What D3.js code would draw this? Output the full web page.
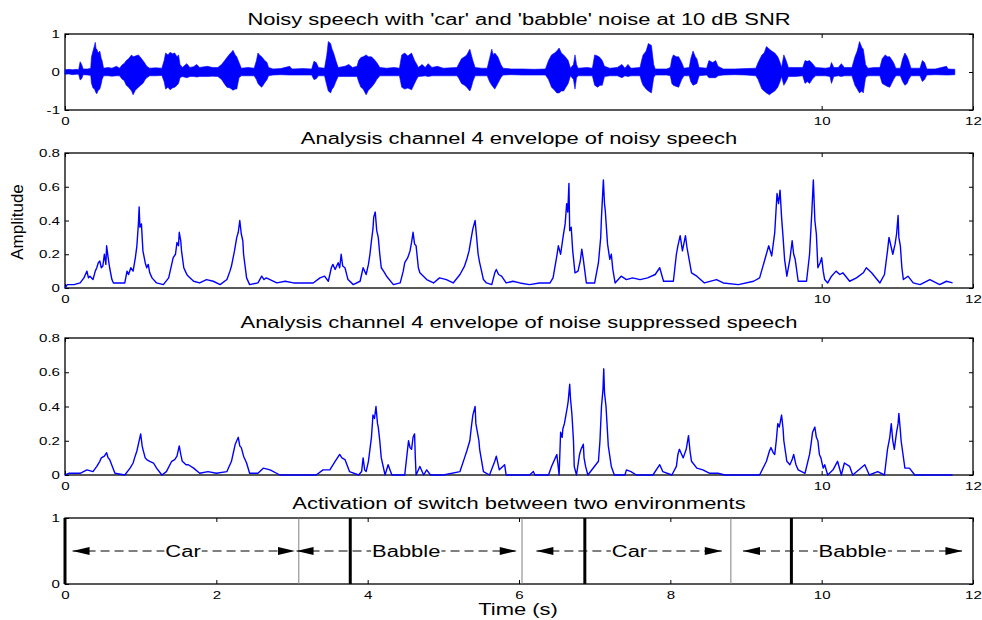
<!DOCTYPE html>
<html>
<head>
<meta charset="utf-8">
<script src="https://cdn.jsdelivr.net/npm/d3@7"></script>
<style>
body { margin: 0; background: #fff; }
svg { display: block; }
text { font-family: "Liberation Sans", Arial, sans-serif; fill: #000; }
</style>
</head>
<body>
<div id="mainDiv"></div>
<script>
var waveform = [
  [0.00,0.06,-0.06],[0.05,0.07,-0.05],[0.10,0.06,-0.07],[0.15,0.07,-0.06],[0.18,0.06,-0.06],
  [0.20,0.27,-0.21],[0.22,0.20,-0.18],[0.24,0.08,-0.07],[0.30,0.08,-0.08],[0.34,0.10,-0.09],
  [0.35,0.40,-0.30],[0.37,0.55,-0.42],[0.39,0.70,-0.45],[0.40,0.78,-0.50],[0.41,0.62,-0.55],
  [0.42,0.60,-0.57],[0.44,0.50,-0.48],[0.46,0.55,-0.45],[0.48,0.35,-0.30],[0.49,0.30,-0.20],
  [0.51,0.10,-0.10],[0.57,0.12,-0.10],[0.62,0.10,-0.11],[0.68,0.15,-0.10],[0.72,0.10,-0.10],
  [0.76,0.20,-0.20],[0.78,0.22,-0.22],[0.81,0.30,-0.35],[0.84,0.35,-0.40],[0.88,0.45,-0.50],
  [0.90,0.40,-0.60],[0.93,0.42,-0.48],[0.97,0.45,-0.40],[1.00,0.38,-0.35],[1.03,0.30,-0.30],
  [1.06,0.22,-0.20],[1.08,0.15,-0.15],[1.12,0.10,-0.10],[1.20,0.11,-0.10],[1.28,0.10,-0.09],
  [1.31,0.30,-0.25],[1.33,0.50,-0.45],[1.36,0.45,-0.40],[1.39,0.52,-0.47],[1.42,0.48,-0.42],
  [1.45,0.50,-0.40],[1.48,0.40,-0.35],[1.50,0.45,-0.30],[1.52,0.20,-0.15],[1.55,0.12,-0.12],
  [1.61,0.22,-0.15],[1.65,0.12,-0.12],[1.70,0.14,-0.12],[1.74,0.20,-0.13],[1.78,0.12,-0.12],
  [1.88,0.15,-0.12],[1.95,0.12,-0.11],[2.02,0.12,-0.12],[2.07,0.20,-0.20],[2.11,0.30,-0.32],
  [2.14,0.38,-0.40],[2.18,0.48,-0.42],[2.20,0.52,-0.45],[2.22,0.57,-0.48],[2.25,0.45,-0.45],
  [2.27,0.40,-0.45],[2.30,0.25,-0.15],[2.33,0.10,-0.10],[2.42,0.12,-0.10],[2.50,0.10,-0.10],
  [2.53,0.30,-0.20],[2.55,0.50,-0.30],[2.57,0.45,-0.35],[2.60,0.40,-0.40],[2.64,0.30,-0.28],
  [2.67,0.25,-0.20],[2.69,0.12,-0.10],[2.75,0.08,-0.08],[2.85,0.09,-0.07],[2.97,0.15,-0.08],
  [3.00,0.08,-0.08],[3.15,0.09,-0.08],[3.26,0.08,-0.08],[3.29,0.28,-0.20],[3.32,0.25,-0.18],
  [3.35,0.12,-0.10],[3.43,0.10,-0.10],[3.46,0.45,-0.35],[3.48,0.80,-0.50],[3.51,0.75,-0.55],
  [3.53,0.60,-0.45],[3.55,0.50,-0.40],[3.58,0.30,-0.25],[3.61,0.12,-0.12],[3.70,0.15,-0.12],
  [3.75,0.20,-0.12],[3.80,0.12,-0.12],[3.86,0.15,-0.12],[3.88,0.30,-0.25],[3.91,0.38,-0.40],
  [3.94,0.40,-0.45],[3.98,0.45,-0.60],[4.01,0.40,-0.48],[4.05,0.40,-0.40],[4.09,0.32,-0.30],
  [4.12,0.25,-0.20],[4.16,0.12,-0.10],[4.25,0.10,-0.10],[4.35,0.12,-0.10],[4.42,0.10,-0.10],
  [4.45,0.45,-0.40],[4.49,0.50,-0.45],[4.53,0.42,-0.42],[4.58,0.50,-0.47],[4.62,0.30,-0.30],
  [4.65,0.20,-0.18],[4.67,0.12,-0.12],[4.72,0.20,-0.11],[4.76,0.12,-0.10],[4.80,0.22,-0.12],
  [4.85,0.12,-0.10],[4.92,0.15,-0.10],[5.00,0.10,-0.10],[5.10,0.11,-0.10],[5.18,0.12,-0.10],
  [5.20,0.20,-0.15],[5.24,0.35,-0.30],[5.28,0.40,-0.35],[5.31,0.45,-0.40],[5.35,0.60,-0.50],
  [5.37,0.45,-0.40],[5.39,0.30,-0.25],[5.42,0.12,-0.10],[5.50,0.10,-0.10],[5.58,0.10,-0.10],
  [5.61,0.35,-0.25],[5.64,0.60,-0.35],[5.66,0.45,-0.40],[5.68,0.50,-0.45],[5.72,0.40,-0.30],
  [5.76,0.20,-0.15],[5.79,0.10,-0.08],[5.90,0.08,-0.07],[6.05,0.08,-0.08],[6.20,0.07,-0.08],
  [6.35,0.08,-0.08],[6.39,0.30,-0.20],[6.43,0.45,-0.40],[6.47,0.50,-0.48],[6.50,0.55,-0.55],
  [6.53,0.63,-0.55],[6.56,0.50,-0.50],[6.59,0.45,-0.50],[6.62,0.38,-0.40],[6.65,0.30,-0.30],
  [6.68,0.10,-0.10],[6.72,0.20,-0.20],[6.74,0.45,-0.45],[6.76,0.20,-0.15],[6.78,0.10,-0.10],
  [6.90,0.12,-0.10],[6.97,0.10,-0.10],[7.00,0.45,-0.35],[7.04,0.42,-0.40],[7.07,0.38,-0.35],
  [7.10,0.30,-0.35],[7.13,0.15,-0.12],[7.20,0.10,-0.10],[7.30,0.12,-0.10],[7.36,0.20,-0.15],
  [7.40,0.10,-0.10],[7.44,0.20,-0.12],[7.48,0.10,-0.10],[7.60,0.12,-0.10],[7.62,0.30,-0.25],
  [7.64,0.45,-0.35],[7.68,0.55,-0.45],[7.71,0.75,-0.50],[7.75,0.70,-0.55],[7.78,0.20,-0.15],
  [7.80,0.08,-0.08],[7.95,0.08,-0.08],[8.00,0.12,-0.10],[8.02,0.35,-0.30],[8.04,0.45,-0.35],
  [8.08,0.40,-0.38],[8.11,0.40,-0.40],[8.15,0.25,-0.20],[8.18,0.10,-0.10],[8.25,0.12,-0.10],
  [8.27,0.35,-0.25],[8.30,0.55,-0.35],[8.33,0.40,-0.32],[8.35,0.35,-0.30],[8.38,0.12,-0.10],
  [8.48,0.10,-0.08],[8.51,0.30,-0.15],[8.56,0.25,-0.15],[8.60,0.30,-0.15],[8.63,0.15,-0.10],
  [8.70,0.08,-0.08],[8.85,0.08,-0.07],[9.00,0.09,-0.08],[9.13,0.10,-0.10],[9.16,0.25,-0.20],
  [9.21,0.45,-0.45],[9.24,0.50,-0.50],[9.27,0.67,-0.55],[9.31,0.60,-0.60],[9.34,0.55,-0.55],
  [9.38,0.50,-0.50],[9.42,0.40,-0.40],[9.45,0.25,-0.25],[9.47,0.12,-0.12],[9.50,0.45,-0.35],
  [9.53,0.30,-0.25],[9.56,0.12,-0.12],[9.65,0.12,-0.12],[9.75,0.12,-0.10],[9.78,0.30,-0.30],
  [9.81,0.28,-0.25],[9.84,0.30,-0.30],[9.88,0.22,-0.18],[9.92,0.12,-0.10],[10.05,0.10,-0.10],
  [10.11,0.12,-0.12],[10.13,0.25,-0.30],[10.16,0.12,-0.12],[10.22,0.12,-0.10],[10.26,0.22,-0.12],
  [10.30,0.12,-0.10],[10.40,0.12,-0.10],[10.44,0.40,-0.35],[10.47,0.55,-0.45],[10.50,0.80,-0.55],
  [10.53,0.65,-0.50],[10.55,0.60,-0.55],[10.58,0.20,-0.15],[10.61,0.10,-0.10],[10.70,0.12,-0.10],
  [10.77,0.12,-0.10],[10.80,0.35,-0.30],[10.84,0.45,-0.35],[10.87,0.40,-0.38],[10.90,0.40,-0.40],
  [10.95,0.25,-0.20],[10.98,0.10,-0.10],[11.04,0.10,-0.10],[11.07,0.35,-0.25],[11.10,0.50,-0.35],
  [11.13,0.40,-0.30],[11.15,0.30,-0.20],[11.18,0.10,-0.10],[11.30,0.10,-0.10],[11.33,0.30,-0.25],
  [11.36,0.25,-0.20],[11.39,0.08,-0.08],[11.50,0.08,-0.07],[11.65,0.15,-0.08],[11.67,0.08,-0.08],
  [11.76,0.07,-0.07]
];

// channel 4 envelope of noisy speech [time, amplitude]
var noisyEnv = [
  [0,0],[0.03,0.02],[0.12,0.02],[0.2,0.03],[0.25,0.06],[0.27,0.08],[0.29,0.1],[0.31,0.06],[0.33,0.07],
  [0.37,0.05],[0.4,0.1],[0.42,0.12],[0.44,0.15],[0.46,0.16],[0.48,0.12],[0.5,0.13],[0.52,0.2],
  [0.54,0.14],[0.55,0.25],[0.57,0.18],[0.59,0.12],[0.62,0.05],[0.64,0.03],[0.79,0.03],[0.82,0.1],
  [0.84,0.08],[0.87,0.12],[0.9,0.1],[0.93,0.18],[0.95,0.25],[0.97,0.38],[0.98,0.48],[0.99,0.36],
  [1.01,0.38],[1.03,0.22],[1.06,0.15],[1.08,0.12],[1.1,0.14],[1.12,0.09],[1.15,0.06],[1.21,0.03],
  [1.3,0.02],[1.37,0.06],[1.41,0.14],[1.43,0.18],[1.46,0.2],[1.48,0.27],[1.5,0.25],[1.51,0.33],
  [1.53,0.28],[1.54,0.22],[1.57,0.12],[1.59,0.1],[1.61,0.08],[1.63,0.07],[1.7,0.04],[1.78,0.03],
  [1.87,0.05],[1.96,0.04],[2.05,0.02],[2.14,0.05],[2.18,0.1],[2.2,0.13],[2.24,0.22],[2.27,0.3],
  [2.29,0.33],[2.31,0.4],[2.33,0.32],[2.35,0.28],[2.36,0.2],[2.4,0.06],[2.44,0.02],[2.55,0.03],
  [2.6,0.07],[2.63,0.05],[2.66,0.06],[2.8,0.03],[2.91,0.04],[3.02,0.03],[3.28,0.03],[3.37,0.06],
  [3.43,0.07],[3.48,0.04],[3.52,0.12],[3.54,0.14],[3.57,0.11],[3.61,0.15],[3.63,0.12],[3.65,0.2],
  [3.67,0.13],[3.7,0.12],[3.74,0.05],[3.81,0.02],[3.9,0.04],[3.94,0.12],[3.98,0.08],[4.01,0.14],
  [4.03,0.2],[4.05,0.28],[4.07,0.35],[4.08,0.42],[4.1,0.45],[4.12,0.34],[4.14,0.3],[4.16,0.2],
  [4.18,0.12],[4.21,0.1],[4.25,0.07],[4.34,0.02],[4.43,0.03],[4.47,0.1],[4.49,0.15],[4.53,0.18],
  [4.56,0.22],[4.58,0.27],[4.6,0.33],[4.62,0.26],[4.64,0.25],[4.67,0.12],[4.69,0.09],[4.78,0.05],
  [4.87,0.03],[4.95,0.06],[5.04,0.05],[5.13,0.03],[5.22,0.08],[5.28,0.13],[5.31,0.17],[5.34,0.22],
  [5.37,0.3],[5.39,0.35],[5.42,0.4],[5.44,0.3],[5.46,0.2],[5.48,0.15],[5.5,0.11],[5.53,0.05],
  [5.57,0.03],[5.64,0.02],[5.68,0.09],[5.7,0.11],[5.73,0.08],[5.77,0.07],[5.83,0.03],[5.92,0.04],
  [6.01,0.03],[6.14,0.02],[6.27,0.03],[6.41,0.03],[6.45,0.06],[6.5,0.19],[6.52,0.25],[6.55,0.2],
  [6.585,0.31],[6.61,0.38],[6.63,0.5],[6.645,0.45],[6.66,0.62],[6.67,0.34],[6.69,0.36],[6.71,0.22],
  [6.74,0.09],[6.78,0.1],[6.81,0.16],[6.83,0.23],[6.85,0.17],[6.87,0.1],[6.89,0.03],[7.0,0.03],
  [7.05,0.15],[7.08,0.3],[7.09,0.42],[7.115,0.64],[7.13,0.5],[7.14,0.46],[7.17,0.26],[7.2,0.17],
  [7.22,0.2],[7.24,0.11],[7.27,0.03],[7.35,0.07],[7.42,0.05],[7.5,0.06],[7.6,0.05],[7.7,0.06],
  [7.8,0.08],[7.86,0.12],[7.91,0.04],[8.04,0.04],[8.08,0.2],[8.1,0.25],[8.13,0.31],[8.16,0.22],
  [8.2,0.31],[8.22,0.24],[8.24,0.19],[8.28,0.09],[8.35,0.07],[8.45,0.03],[8.61,0.05],[8.7,0.03],
  [8.9,0.02],[9.1,0.04],[9.18,0.06],[9.25,0.17],[9.3,0.25],[9.34,0.19],[9.38,0.33],[9.41,0.56],
  [9.43,0.5],[9.45,0.58],[9.47,0.42],[9.49,0.3],[9.51,0.17],[9.54,0.07],[9.58,0.17],[9.61,0.28],
  [9.63,0.2],[9.65,0.17],[9.69,0.04],[9.8,0.04],[9.84,0.2],[9.87,0.45],[9.89,0.64],[9.91,0.4],
  [9.93,0.32],[9.95,0.12],[9.98,0.15],[10.0,0.18],[10.02,0.1],[10.04,0.05],[10.08,0.03],[10.13,0.07],
  [10.19,0.1],[10.24,0.08],[10.28,0.09],[10.37,0.04],[10.46,0.06],[10.55,0.09],[10.59,0.12],[10.66,0.09],
  [10.77,0.03],[10.83,0.08],[10.87,0.22],[10.89,0.3],[10.92,0.24],[10.94,0.2],[10.97,0.26],[10.99,0.32],
  [11.01,0.43],[11.02,0.3],[11.04,0.25],[11.06,0.12],[11.08,0.05],[11.14,0.07],[11.21,0.03],[11.3,0.02],
  [11.43,0.05],[11.56,0.02],[11.65,0.04],[11.73,0.03]
];

// channel 4 envelope after noise suppression [time, amplitude]
var cleanEnv = [
  [0,0],[0.05,0.01],[0.2,0.01],[0.29,0.03],[0.37,0.02],[0.42,0.05],[0.46,0.08],[0.48,0.1],
  [0.52,0.11],[0.55,0.13],[0.57,0.1],[0.59,0.09],[0.66,0.01],[0.79,0],[0.86,0.04],[0.9,0.07],
  [0.92,0.1],[0.95,0.14],[0.97,0.18],[1.0,0.24],[1.02,0.17],[1.03,0.15],[1.06,0.1],[1.08,0.09],
  [1.12,0.08],[1.17,0.07],[1.21,0.04],[1.28,0],[1.34,0.02],[1.41,0.08],[1.45,0.09],[1.48,0.11],
  [1.51,0.17],[1.53,0.12],[1.55,0.08],[1.6,0.06],[1.63,0.06],[1.7,0.04],[1.78,0.01],[1.89,0.02],
  [2.0,0.01],[2.14,0.02],[2.2,0.08],[2.23,0.14],[2.25,0.18],[2.27,0.2],[2.29,0.22],[2.31,0.17],
  [2.33,0.16],[2.36,0.11],[2.4,0.07],[2.44,0.01],[2.55,0.01],[2.62,0.04],[2.71,0.03],[2.84,0],
  [3.32,0],[3.41,0.03],[3.5,0.03],[3.57,0.08],[3.6,0.1],[3.63,0.12],[3.66,0.1],[3.7,0.09],
  [3.76,0.02],[3.88,0],[3.92,0.02],[3.94,0.1],[3.96,0.03],[3.98,0.02],[4.01,0.08],[4.03,0.15],
  [4.05,0.22],[4.07,0.35],[4.09,0.33],[4.11,0.4],[4.13,0.3],[4.14,0.28],[4.16,0.2],[4.18,0.1],
  [4.23,0],[4.27,0.06],[4.32,0],[4.49,0],[4.52,0.12],[4.54,0.2],[4.56,0.16],[4.58,0.15],
  [4.6,0.22],[4.62,0.24],[4.63,0.1],[4.64,0],[4.69,0.05],[4.74,0],[4.78,0.03],[4.83,0],
  [5.0,0],[5.22,0.02],[5.28,0.1],[5.31,0.14],[5.35,0.2],[5.37,0.28],[5.39,0.35],[5.42,0.4],
  [5.43,0.3],[5.45,0.25],[5.47,0.2],[5.48,0.15],[5.53,0.02],[5.61,0],[5.68,0.08],[5.7,0.11],
  [5.74,0.03],[5.81,0.06],[5.83,0],[6.14,0],[6.19,0.02],[6.21,0],[6.39,0],[6.43,0.05],
  [6.48,0.1],[6.5,0.12],[6.53,0],[6.55,0.25],[6.57,0.22],[6.58,0.27],[6.6,0.3],[6.62,0.35],
  [6.64,0.4],[6.65,0.43],[6.67,0.53],[6.68,0.45],[6.7,0.35],[6.72,0.2],[6.73,0.05],[6.76,0],
  [6.8,0.12],[6.82,0.15],[6.85,0.18],[6.86,0.1],[6.88,0.05],[6.91,0],[7.05,0.08],[7.07,0.2],
  [7.09,0.4],[7.11,0.5],[7.12,0.62],[7.13,0.48],[7.15,0.4],[7.18,0.17],[7.22,0.05],[7.26,0],
  [7.4,0],[7.42,0.03],[7.48,0.02],[7.55,0],[7.77,0],[7.86,0.06],[7.9,0.02],[8.02,0],
  [8.08,0.05],[8.1,0.12],[8.12,0.15],[8.15,0.12],[8.17,0.1],[8.21,0.15],[8.24,0.23],[8.26,0.14],
  [8.28,0.08],[8.35,0.04],[8.43,0.03],[8.52,0.01],[8.63,0.01],[8.72,0],[9.18,0],[9.27,0.08],
  [9.31,0.14],[9.33,0.16],[9.36,0.13],[9.38,0.12],[9.4,0.2],[9.42,0.3],[9.44,0.28],[9.47,0.35],
  [9.49,0.27],[9.5,0.2],[9.54,0.08],[9.58,0.06],[9.61,0.09],[9.63,0.12],[9.66,0.06],[9.69,0.03],
  [9.78,0.01],[9.84,0.12],[9.86,0.18],[9.88,0.25],[9.91,0.28],[9.93,0.22],[9.95,0.2],[9.97,0.12],
  [9.99,0.1],[10.02,0.04],[10.04,0.06],[10.08,0],[10.15,0.03],[10.21,0.08],[10.26,0],[10.3,0.07],
  [10.37,0.05],[10.41,0],[10.57,0.06],[10.63,0],[10.74,0.02],[10.83,0],[10.87,0.15],[10.9,0.22],
  [10.92,0.3],[10.94,0.2],[10.96,0.15],[10.99,0.25],[11.01,0.3],[11.02,0.36],[11.04,0.26],[11.05,0.2],
  [11.1,0.04],[11.16,0.04],[11.23,0],[11.73,0]
];

var titles = [
  "Noisy speech with 'car' and 'babble' noise at 10 dB SNR",
  "Analysis channel 4 envelope of noisy speech",
  "Analysis channel 4 envelope of noise suppressed speech",
  "Activation of switch between two environments"
];
var sparseTicks = [0, 10, 12];
var fullTicks = [0, 2, 4, 6, 8, 10, 12];
var waveTicks = [-1, 0, 1];
var ampTicks = [0, 0.2, 0.4, 0.6, 0.8];
var switchTicks = [0, 1];

// switch panel
var thinSwitch = [3.09, 6.04, 8.8];
var thickSwitch = [0, 3.77, 6.87, 9.6];
var envNames = ["Car", "Babble", "Car", "Babble"];
var envFrom = [0.1, 3.06, 6.23, 8.96];
var envTo = [3.04, 5.97, 8.68, 11.86];
var envMid = [1.56, 4.51, 7.46, 10.41];

var stretch = 1.37;
var blue = "#0000ff";

var svg = d3.select("#mainDiv").append("svg")
            .attr("width", 982)
            .attr("height", 620);

svg.append("rect").attr("width", 982).attr("height", 620).attr("fill", "#fff");

var x = d3.scaleLinear().domain([0, 12]).range([65, 973]);

var panels = [
  {top: 34, bottom: 110, domain: [-1, 1], yTicks: waveTicks, xTicks: sparseTicks, titleY: 25},
  {top: 153, bottom: 288, domain: [0, 0.8], yTicks: ampTicks, xTicks: sparseTicks, titleY: 144},
  {top: 338, bottom: 475, domain: [0, 0.8], yTicks: ampTicks, xTicks: sparseTicks, titleY: 328},
  {top: 518, bottom: 584, domain: [0, 1], yTicks: switchTicks, xTicks: fullTicks, titleY: 509}
];

function styleAxis(g) {
  g.attr("font-size", 11).attr("font-family", "Liberation Sans, Arial, sans-serif");
  g.select(".domain").remove();
}

var ys = panels.map(function(p, i) {
  var y = d3.scaleLinear().domain(p.domain).range([p.bottom, p.top]);
  var g = svg.append("g");

  g.append("g").attr("transform", "translate(0," + p.bottom + ")")
   .call(d3.axisBottom(x).tickValues(p.xTicks).tickSize(-4).tickSizeOuter(0).tickPadding(7)
          .tickFormat(function(d) { return String(d); }))
   .call(styleAxis);
  g.append("g").attr("transform", "translate(0," + p.top + ")")
   .call(d3.axisTop(x).tickValues(p.xTicks).tickSize(-4).tickSizeOuter(0).tickFormat(""))
   .call(styleAxis);
  g.append("g").attr("transform", "translate(65,0)")
   .call(d3.axisLeft(y).tickValues(p.yTicks).tickSize(-4).tickSizeOuter(0).tickPadding(5)
          .tickFormat(function(d) { return String(d); }))
   .call(styleAxis);
  g.append("g").attr("transform", "translate(973,0)")
   .call(d3.axisRight(y).tickValues(p.yTicks).tickSize(-4).tickSizeOuter(0).tickFormat(""))
   .call(styleAxis);

  g.append("rect")
   .attr("x", 65).attr("y", p.top)
   .attr("width", 973 - 65).attr("height", p.bottom - p.top)
   .attr("fill", "none").attr("stroke", "#000").attr("stroke-width", 1.3);

  svg.append("text")
     .attr("x", 519).attr("y", p.titleY)
     .attr("text-anchor", "middle").attr("font-size", 16)
     .text(titles[i]);
  return y;
});

// waveform
svg.append("path")
   .datum(waveform)
   .attr("fill", blue).attr("stroke", blue).attr("stroke-width", 0.6)
   .attr("d", d3.area().x(function(d) { return x(d[0]); })
                      .y0(function(d) { return ys[0](d[2]); })
                      .y1(function(d) { return ys[0](d[1]); }));

// envelopes
[noisyEnv, cleanEnv].forEach(function(env, k) {
  var y = ys[k + 1];
  svg.append("path")
     .datum(env)
     .attr("fill", "none").attr("stroke", blue).attr("stroke-width", 1.4)
     .attr("stroke-linejoin", "round")
     .attr("d", d3.line().x(function(d) { return x(d[0]); }).y(function(d) { return y(d[1]); }));
});

// switch panel
var y4 = ys[3];
svg.selectAll(".thin").data(thinSwitch).enter().append("line")
   .attr("x1", function(d) { return x(d); }).attr("x2", function(d) { return x(d); })
   .attr("y1", y4(0)).attr("y2", y4(1))
   .attr("stroke", "#808080").attr("stroke-width", 1);

var ym = y4(0.5);
envNames.forEach(function(name, i) {
  var x0 = x(envFrom[i]), x1 = x(envTo[i]);
  svg.append("line")
     .attr("x1", x0).attr("x2", x1).attr("y1", ym).attr("y2", ym)
     .attr("stroke", "#000").attr("stroke-width", 1).attr("stroke-dasharray", "9,5");
  svg.append("path")
     .attr("d", "M" + x0 + "," + ym + "L" + (x0 + 17) + "," + (ym - 4) + "L" + (x0 + 17) + "," + (ym + 4) + "Z")
     .attr("fill", "#000");
  svg.append("path")
     .attr("d", "M" + x1 + "," + ym + "L" + (x1 - 17) + "," + (ym - 4) + "L" + (x1 - 17) + "," + (ym + 4) + "Z")
     .attr("fill", "#000");
  var bg = svg.append("rect").attr("fill", "#fff");
  var t = svg.append("text")
     .attr("x", x(envMid[i])).attr("y", ym + 6)
     .attr("text-anchor", "middle").attr("font-size", 16)
     .text(name);
  var w = t.node().getComputedTextLength() * stretch;
  bg.attr("x", x(envMid[i]) - w / 2 - 1).attr("y", ym - 6)
    .attr("width", w + 2).attr("height", 12);
});

svg.selectAll(".thick").data(thickSwitch).enter().append("line")
   .attr("x1", function(d) { return x(d); }).attr("x2", function(d) { return x(d); })
   .attr("y1", y4(0)).attr("y2", y4(1))
   .attr("stroke", "#000").attr("stroke-width", 3);

svg.append("text")
   .attr("x", 518).attr("y", 615)
   .attr("text-anchor", "middle").attr("font-size", 16)
   .text("Time (s)");

// widen all text to match the horizontally stretched original
svg.selectAll("text").each(function() {
  var n = this.getComputedTextLength();
  if (n > 0) {
    d3.select(this).attr("textLength", n * stretch).attr("lengthAdjust", "spacingAndGlyphs");
  }
});

svg.append("text")
   .attr("transform", "translate(23,222) rotate(-90)")
   .attr("text-anchor", "middle").attr("font-size", 17)
   .text("Amplitude");
</script>
</body>
</html>
